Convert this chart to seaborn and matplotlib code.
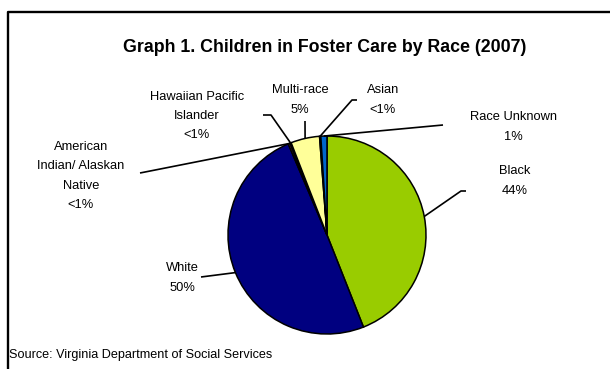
import matplotlib
matplotlib.use("Agg")
import matplotlib.pyplot as plt
import seaborn as sns
import numpy as np

# Data
races = ['Black', 'White', 'American Indian/ Alaskan Native',
         'Hawaiian Pacific Islander', 'Multi-race', 'Asian', 'Race Unknown']
shares = [44.0, 49.6, 0.3, 0.2, 4.7, 0.2, 1.0]
pct_labels = ['44%', '50%', '<1%', '<1%', '5%', '<1%', '1%']
label_names = ['Black', 'White', 'American\nIndian/ Alaskan\nNative',
               'Hawaiian Pacific\nIslander', 'Multi-race', 'Asian', 'Race Unknown']
slice_colors = ['#99CC00', '#000080', '#993366', '#FFFFCC', '#FFFF99', '#CCFFFF', '#0066CC']

sns.set_theme(style='white')
plt.rcParams['font.family'] = ['Liberation Sans', 'DejaVu Sans']
plt.rcParams['text.color'] = 'black'

W, H = 610, 369
fig = plt.figure(figsize=(W / 100, H / 100), dpi=100)
ax = fig.add_axes([0, 0, 1, 1])

# pixel-like coordinates, y measured from top
def py(y):
    return H - y

cx, cy, r = 327, 235, 99
wedges, _ = ax.pie(shares, colors=sns.color_palette(slice_colors), startangle=90,
                   counterclock=False, radius=r, center=(cx, py(cy)), frame=True,
                   wedgeprops=dict(edgecolor='black', linewidth=1.1))
ax.set_xlim(0, W)
ax.set_ylim(0, H)
ax.axis('off')

# label layout: text centre, leader start, optional elbow
layout = {
    'Black': ((515, 181), [(466, 191), (461, 191)]),
    'White': ((182, 278), [(201, 277)]),
    'American Indian/ Alaskan Native': ((81, 176), [(140, 173)]),
    'Hawaiian Pacific Islander': ((197, 116), [(263, 115), (271, 115)]),
    'Multi-race': ((300, 100), [(305, 121)]),
    'Asian': ((383, 100), [(357, 100), (352, 100)]),
    'Race Unknown': ((513, 127), [(443, 125)]),
}

for w, race, name, pct in zip(wedges, races, label_names, pct_labels):
    (tx, ty), pts = layout[race]
    ax.text(tx, py(ty), name + '\n' + pct, ha='center', va='center',
            fontsize=9.3, linespacing=1.8, color='black')
    mid = np.deg2rad((w.theta1 + w.theta2) / 2)
    ex, ey = cx + r * np.cos(mid), py(cy) + r * np.sin(mid)
    xs = [p[0] for p in pts] + [ex]
    ys = [py(p[1]) for p in pts] + [ey]
    ax.plot(xs, ys, color='black', lw=1.2, solid_capstyle='butt')

ax.text(325, py(48), 'Graph 1. Children in Foster Care by Race (2007)',
        ha='center', va='center', fontsize=12.8, fontweight='bold', color='black')
ax.text(9, py(355), 'Source: Virginia Department of Social Services',
        ha='left', va='center', fontsize=9.1, color='black')

# chart frame (top and left edges)
ax.plot([8, 8, W], [0, py(12), py(12)], color='black', lw=1.7)

fig.savefig('out.png', dpi=100)
